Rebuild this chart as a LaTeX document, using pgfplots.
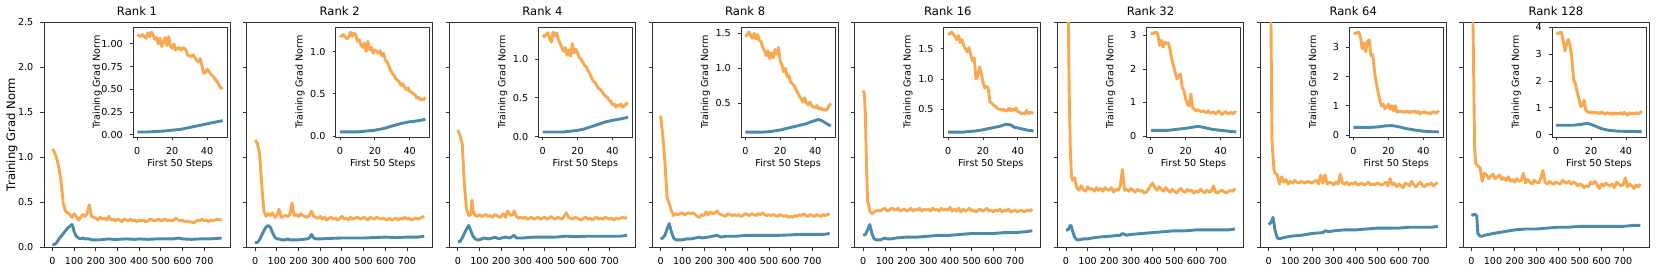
\documentclass[border=0pt]{standalone}
\usepackage{fontspec}
\setmainfont{DejaVu Sans}
\usepackage{pgfplots}
\pgfplotsset{compat=1.18}
\definecolor{ocol}{HTML}{F8A94F}
\definecolor{bcol}{HTML}{4A8AAA}
\newcommand\tickfont{\fontsize{4.8}{5.3}\selectfont}
\newcommand\labfont{\fontsize{4.8}{5.3}\selectfont}
\begin{document}
\begin{tikzpicture}
\pgfplotsset{
 base/.style={anchor=south west, scale only axis,
  tick align=outside, xtick pos=bottom, ytick pos=left,
  major tick length=1.8pt,
  axis line style={black!80, line width=0.4pt},
  tick style={black!80, line width=0.4pt},
  ticklabel style={font=\tickfont},
  /pgf/number format/assume math mode=true,
  every axis plot/.append style={line width=1.45pt, line join=round},
 },
 main/.style={base, width=93pt, height=112.5pt,
  xmin=-39, xmax=819, ymin=0, ymax=2.5,
  xtick={0,100,...,700}, ytick={0,0.5,...,2.5},
  yticklabel style={/pgf/number format/fixed, /pgf/number format/zerofill, /pgf/number format/precision=1},
  every axis title/.style={font=\fontsize{5.8}{6}\selectfont, at={(0.5,1)}, anchor=base, yshift=3.3pt, inner sep=0pt},
 },
 inset/.style={base, width=47pt, height=55pt, xmin=-2.45, xmax=51.45,
  xtick={0,20,40}, axis background/.style={fill=white},
  xlabel={First 50 Steps}, ylabel={Training Grad Norm},
  every axis x label/.style={at={(axis description cs:0.5,0)}, anchor=north, yshift=-10.8pt, inner sep=0pt, font=\labfont},
  every axis y label/.style={at={(axis description cs:-0.38,0.5)}, anchor=center, rotate=90, inner sep=0pt, font=\labfont},
  major tick length=1.6pt,
 },
 noyl/.style={yticklabels={}},
 p1/.style={yticklabel style={/pgf/number format/fixed, /pgf/number format/zerofill, /pgf/number format/precision=1}},
 p2/.style={yticklabel style={/pgf/number format/fixed, /pgf/number format/zerofill, /pgf/number format/precision=2}},
 p0/.style={yticklabel style={/pgf/number format/fixed, /pgf/number format/precision=0}},
}
% ================= Rank 1
\begin{axis}[main, at={(22pt,11.5pt)}, title={Rank 1}, ylabel={Training Grad Norm},
 every axis y label/.style={at={(axis description cs:-0.172,0.5)}, anchor=center, rotate=90, inner sep=0pt, font=\fontsize{5.8}{6.2}\selectfont}]
\addplot[ocol] coordinates {(0,1.09)(10,1.05)(20,0.98)(30,0.88)(40,0.72)(50,0.48)(60,0.40)(70,0.38)(80,0.36)(90,0.33)(100,0.37)(110,0.34)(120,0.30)(130,0.33)(140,0.36)(150,0.34)(160,0.37)(170,0.47)(180,0.34)(190,0.33)(200,0.32)(210,0.30)(220,0.33)(230,0.31)(240,0.32)(250,0.30)(260,0.34)(270,0.30)(280,0.31)(290,0.29)(300,0.31)(310,0.30)(320,0.28)(330,0.31)(340,0.30)(350,0.29)(360,0.31)(370,0.29)(380,0.30)(390,0.28)(400,0.30)(410,0.29)(420,0.30)(430,0.28)(440,0.29)(450,0.31)(460,0.30)(470,0.29)(480,0.30)(490,0.31)(500,0.29)(510,0.30)(520,0.31)(530,0.29)(540,0.30)(550,0.29)(560,0.30)(570,0.32)(580,0.30)(590,0.29)(600,0.30)(610,0.28)(620,0.29)(630,0.28)(640,0.28)(650,0.27)(660,0.28)(670,0.30)(680,0.29)(690,0.31)(700,0.29)(710,0.30)(720,0.28)(730,0.30)(740,0.29)(750,0.30)(760,0.31)(770,0.30)(780,0.31)};
\addplot[bcol] coordinates {(0,0.03)(10,0.03)(20,0.05)(30,0.09)(40,0.12)(50,0.15)(60,0.18)(70,0.21)(80,0.23)(90,0.25)(95,0.22)(100,0.17)(110,0.12)(120,0.10)(130,0.09)(140,0.10)(150,0.09)(170,0.09)(180,0.08)(200,0.08)(220,0.08)(240,0.085)(260,0.09)(280,0.085)(300,0.085)(340,0.09)(380,0.085)(400,0.09)(440,0.085)(480,0.09)(520,0.09)(560,0.09)(580,0.10)(600,0.09)(640,0.085)(680,0.09)(720,0.09)(760,0.095)(780,0.10)};
\end{axis}
\begin{axis}[inset, p2, at={(66.5pt,66.5pt)}, ymin=-0.025, ymax=1.185, ytick={0,0.25,0.5,0.75,1}]
\addplot[ocol] coordinates {(0,1.10)(1,1.09)(2,1.08)(3,1.10)(4,1.08)(5,1.06)(6,1.12)(7,1.08)(8,1.13)(9,1.10)(10,1.05)(11,1.07)(12,1.00)(13,1.06)(14,0.97)(15,1.02)(16,1.07)(17,0.98)(18,1.08)(19,0.97)(20,0.95)(21,1.00)(22,0.93)(23,0.95)(24,0.96)(25,0.93)(26,0.96)(27,0.95)(28,0.93)(29,0.87)(30,0.87)(31,0.86)(32,0.88)(33,0.85)(34,0.82)(35,0.80)(36,0.84)(37,0.77)(38,0.68)(39,0.68)(40,0.72)(41,0.70)(42,0.67)(43,0.65)(44,0.63)(45,0.60)(46,0.58)(47,0.54)(48,0.51)(49,0.52)};
\addplot[bcol] coordinates {(0,0.03)(5,0.03)(10,0.035)(15,0.04)(20,0.05)(25,0.06)(30,0.08)(35,0.10)(40,0.12)(45,0.14)(49,0.155)};
\end{axis}
% ================= Rank 2
\begin{axis}[main, noyl, at={(123.35pt,11.5pt)}, title={Rank 2}]
\addplot[ocol] coordinates {(0,1.19)(10,1.15)(20,1.05)(30,0.70)(40,0.40)(50,0.34)(60,0.37)(70,0.35)(80,0.38)(90,0.33)(100,0.35)(110,0.42)(120,0.33)(130,0.34)(140,0.35)(150,0.34)(160,0.36)(170,0.49)(180,0.35)(190,0.36)(200,0.34)(210,0.37)(220,0.35)(230,0.34)(240,0.33)(250,0.35)(260,0.40)(270,0.34)(280,0.33)(290,0.32)(300,0.34)(310,0.31)(320,0.33)(330,0.30)(340,0.32)(350,0.33)(360,0.31)(370,0.32)(380,0.30)(390,0.32)(400,0.34)(410,0.31)(420,0.32)(430,0.30)(440,0.33)(450,0.31)(460,0.32)(470,0.33)(480,0.32)(490,0.31)(500,0.33)(510,0.32)(520,0.30)(530,0.33)(540,0.32)(550,0.31)(560,0.33)(570,0.32)(580,0.31)(590,0.32)(600,0.31)(610,0.30)(620,0.32)(630,0.30)(640,0.31)(650,0.32)(660,0.30)(670,0.32)(680,0.31)(690,0.33)(700,0.31)(710,0.32)(720,0.30)(730,0.31)(740,0.32)(750,0.31)(760,0.32)(770,0.33)(780,0.34)};
\addplot[bcol] coordinates {(0,0.05)(10,0.05)(20,0.08)(30,0.13)(40,0.18)(50,0.22)(60,0.24)(70,0.22)(80,0.16)(90,0.11)(100,0.09)(110,0.09)(120,0.08)(140,0.08)(150,0.09)(160,0.08)(200,0.08)(240,0.09)(250,0.10)(260,0.14)(270,0.10)(280,0.09)(300,0.09)(340,0.095)(400,0.10)(450,0.10)(500,0.10)(550,0.105)(600,0.11)(650,0.105)(700,0.11)(750,0.11)(780,0.12)};
\end{axis}
\begin{axis}[inset, p1, at={(167.85pt,66.5pt)}, ymin=-0.01, ymax=1.29, ytick={0,0.5,1}]
\addplot[ocol] coordinates {(0,1.19)(1,1.18)(2,1.20)(3,1.17)(4,1.15)(5,1.17)(6,1.23)(7,1.18)(8,1.22)(9,1.20)(10,1.12)(11,1.14)(12,1.08)(13,1.05)(14,1.10)(15,1.00)(16,1.12)(17,1.02)(18,1.05)(19,0.98)(20,1.02)(21,1.00)(22,0.98)(23,1.01)(24,0.95)(25,0.98)(26,0.90)(27,0.88)(28,0.83)(29,0.78)(30,0.74)(31,0.72)(32,0.68)(33,0.66)(34,0.64)(35,0.60)(36,0.62)(37,0.58)(38,0.55)(39,0.57)(40,0.53)(41,0.52)(42,0.50)(43,0.49)(44,0.45)(45,0.46)(46,0.43)(47,0.44)(48,0.43)(49,0.46)};
\addplot[bcol] coordinates {(0,0.05)(10,0.05)(15,0.06)(20,0.07)(25,0.09)(30,0.12)(35,0.15)(40,0.17)(44,0.18)(47,0.19)(49,0.20)};
\end{axis}
% ================= Rank 4
\begin{axis}[main, noyl, at={(224.7pt,11.5pt)}, title={Rank 4}]
\addplot[ocol] coordinates {(0,1.30)(10,1.24)(20,1.15)(30,0.70)(40,0.42)(50,0.35)(60,0.36)(65,0.52)(70,0.40)(80,0.35)(90,0.34)(100,0.36)(110,0.34)(120,0.35)(130,0.36)(140,0.34)(150,0.35)(160,0.33)(170,0.36)(180,0.35)(190,0.33)(200,0.34)(210,0.37)(220,0.33)(230,0.40)(240,0.36)(250,0.35)(260,0.40)(270,0.34)(280,0.32)(290,0.33)(300,0.32)(310,0.33)(320,0.31)(330,0.32)(340,0.33)(350,0.31)(360,0.32)(370,0.33)(380,0.31)(390,0.32)(400,0.33)(410,0.31)(420,0.32)(430,0.34)(440,0.32)(450,0.31)(460,0.33)(470,0.32)(480,0.31)(490,0.34)(500,0.38)(510,0.33)(520,0.32)(530,0.31)(540,0.33)(550,0.32)(560,0.31)(570,0.30)(580,0.32)(590,0.33)(600,0.31)(610,0.32)(620,0.30)(630,0.32)(640,0.33)(650,0.31)(660,0.32)(670,0.31)(680,0.33)(690,0.32)(700,0.31)(710,0.32)(720,0.30)(730,0.32)(740,0.31)(750,0.32)(760,0.33)(770,0.32)(780,0.33)};
\addplot[bcol] coordinates {(0,0.06)(10,0.06)(20,0.10)(30,0.15)(40,0.20)(50,0.24)(60,0.18)(70,0.12)(80,0.09)(90,0.08)(100,0.08)(120,0.10)(140,0.09)(160,0.10)(170,0.11)(190,0.09)(200,0.10)(220,0.11)(240,0.10)(260,0.13)(270,0.10)(300,0.10)(350,0.11)(400,0.11)(450,0.11)(500,0.12)(550,0.115)(600,0.12)(650,0.12)(700,0.12)(750,0.12)(780,0.13)};
\end{axis}
\begin{axis}[inset, p1, at={(269.2pt,66.5pt)}, ymin=-0.005, ymax=1.415, ytick={0,0.5,1}]
\addplot[ocol] coordinates {(0,1.31)(1,1.29)(2,1.32)(3,1.34)(4,1.27)(5,1.22)(6,1.35)(7,1.30)(8,1.34)(9,1.26)(10,1.20)(11,1.15)(12,1.10)(13,1.15)(14,1.05)(15,1.12)(16,1.04)(17,1.20)(18,1.08)(19,1.13)(20,1.08)(21,1.02)(22,1.00)(23,0.96)(24,0.92)(25,0.90)(26,0.85)(27,0.82)(28,0.76)(29,0.72)(30,0.70)(31,0.66)(32,0.62)(33,0.61)(34,0.58)(35,0.55)(36,0.52)(37,0.51)(38,0.47)(39,0.46)(40,0.41)(41,0.42)(42,0.38)(43,0.41)(44,0.40)(45,0.42)(46,0.38)(47,0.40)(48,0.43)(49,0.42)};
\addplot[bcol] coordinates {(0,0.06)(12,0.06)(16,0.07)(20,0.08)(24,0.10)(28,0.13)(32,0.16)(36,0.19)(40,0.21)(45,0.23)(49,0.25)};
\end{axis}
% ================= Rank 8
\begin{axis}[main, noyl, at={(326.05pt,11.5pt)}, title={Rank 8}]
\addplot[ocol] coordinates {(0,1.46)(10,1.25)(20,0.95)(30,0.55)(40,0.48)(50,0.40)(60,0.35)(70,0.37)(80,0.36)(90,0.37)(100,0.38)(110,0.36)(120,0.37)(130,0.38)(140,0.37)(150,0.38)(160,0.36)(170,0.34)(180,0.33)(190,0.36)(200,0.35)(210,0.39)(220,0.36)(230,0.39)(240,0.37)(250,0.38)(260,0.40)(270,0.37)(280,0.36)(290,0.35)(300,0.34)(310,0.37)(320,0.36)(330,0.35)(340,0.36)(350,0.35)(360,0.36)(370,0.34)(380,0.35)(390,0.37)(400,0.36)(410,0.35)(420,0.37)(430,0.36)(440,0.35)(450,0.37)(460,0.36)(470,0.38)(480,0.36)(490,0.35)(500,0.36)(510,0.35)(520,0.36)(530,0.35)(540,0.34)(550,0.36)(560,0.35)(570,0.34)(580,0.35)(590,0.33)(600,0.34)(610,0.33)(620,0.35)(630,0.34)(640,0.36)(650,0.35)(660,0.37)(670,0.35)(680,0.34)(690,0.36)(700,0.35)(710,0.34)(720,0.36)(730,0.35)(740,0.34)(750,0.36)(760,0.35)(770,0.36)(780,0.37)};
\addplot[bcol] coordinates {(0,0.09)(10,0.10)(20,0.13)(30,0.20)(40,0.26)(50,0.17)(60,0.10)(70,0.08)(80,0.08)(100,0.08)(120,0.09)(140,0.09)(160,0.10)(180,0.11)(190,0.10)(220,0.11)(260,0.13)(280,0.11)(300,0.12)(350,0.12)(400,0.13)(450,0.13)(500,0.13)(550,0.13)(600,0.135)(650,0.14)(700,0.14)(750,0.14)(780,0.15)};
\end{axis}
\begin{axis}[inset, p1, at={(370.55pt,66.5pt)}, ymin=0.02, ymax=1.59, ytick={0.5,1,1.5}]
\addplot[ocol] coordinates {(0,1.45)(1,1.48)(2,1.52)(3,1.47)(4,1.43)(5,1.50)(6,1.42)(7,1.48)(8,1.40)(9,1.38)(10,1.30)(11,1.25)(12,1.18)(13,1.25)(14,1.14)(15,1.22)(16,1.15)(17,1.27)(18,1.20)(19,1.30)(20,1.10)(21,1.05)(22,0.95)(23,1.00)(24,0.88)(25,0.90)(26,0.80)(27,0.78)(28,0.75)(29,0.70)(30,0.65)(31,0.60)(32,0.57)(33,0.52)(34,0.58)(35,0.50)(36,0.48)(37,0.52)(38,0.47)(39,0.45)(40,0.44)(41,0.47)(42,0.42)(43,0.44)(44,0.41)(45,0.42)(46,0.40)(47,0.42)(48,0.47)(49,0.50)};
\addplot[bcol] coordinates {(0,0.09)(10,0.09)(15,0.10)(20,0.12)(25,0.15)(30,0.18)(35,0.21)(38,0.24)(42,0.27)(44,0.25)(46,0.22)(48,0.19)(49,0.18)};
\end{axis}
% ================= Rank 16
\begin{axis}[main, noyl, at={(427.4pt,11.5pt)}, title={Rank 16}]
\addplot[ocol] coordinates {(0,1.74)(5,1.70)(10,1.45)(15,0.90)(20,0.50)(25,0.47)(30,0.40)(40,0.37)(50,0.39)(60,0.40)(70,0.41)(80,0.40)(90,0.42)(100,0.43)(110,0.40)(120,0.41)(130,0.43)(140,0.42)(150,0.41)(160,0.43)(170,0.40)(180,0.41)(190,0.42)(200,0.40)(210,0.41)(220,0.43)(230,0.40)(240,0.42)(250,0.41)(260,0.43)(270,0.40)(280,0.42)(290,0.41)(300,0.42)(310,0.40)(320,0.43)(330,0.41)(340,0.42)(350,0.40)(360,0.43)(370,0.41)(380,0.42)(390,0.41)(400,0.44)(410,0.40)(420,0.42)(430,0.40)(440,0.43)(450,0.39)(460,0.42)(470,0.40)(480,0.41)(490,0.43)(500,0.40)(510,0.41)(520,0.39)(530,0.41)(540,0.42)(550,0.40)(560,0.41)(570,0.43)(580,0.40)(590,0.41)(600,0.39)(610,0.41)(620,0.40)(630,0.42)(640,0.39)(650,0.41)(660,0.40)(670,0.42)(680,0.39)(690,0.40)(700,0.41)(710,0.39)(720,0.40)(730,0.41)(740,0.39)(750,0.40)(760,0.41)(770,0.40)(780,0.42)};
\addplot[bcol] coordinates {(0,0.13)(10,0.14)(20,0.19)(30,0.25)(40,0.15)(50,0.09)(60,0.08)(70,0.08)(80,0.08)(100,0.10)(110,0.09)(130,0.09)(150,0.10)(200,0.11)(250,0.11)(300,0.12)(350,0.13)(400,0.13)(450,0.14)(500,0.15)(550,0.15)(600,0.15)(650,0.16)(700,0.16)(750,0.17)(780,0.18)};
\end{axis}
\begin{axis}[inset, p1, at={(471.9pt,66.5pt)}, ymin=0.04, ymax=1.86, ytick={0.5,1,1.5}]
\addplot[ocol] coordinates {(0,1.73)(1,1.75)(2,1.78)(3,1.74)(4,1.70)(5,1.65)(6,1.72)(7,1.60)(8,1.65)(9,1.55)(10,1.50)(11,1.45)(12,1.52)(13,1.40)(14,1.30)(15,1.35)(16,1.00)(17,1.05)(18,1.20)(19,1.10)(20,0.95)(21,0.85)(22,0.88)(23,0.85)(24,0.62)(25,0.60)(26,0.57)(27,0.55)(28,0.52)(29,0.50)(30,0.50)(31,0.48)(32,0.50)(33,0.47)(34,0.48)(35,0.52)(36,0.47)(37,0.50)(38,0.48)(39,0.52)(40,0.46)(41,0.45)(42,0.43)(43,0.44)(44,0.42)(45,0.48)(46,0.43)(47,0.45)(48,0.44)(49,0.44)};
\addplot[bcol] coordinates {(0,0.12)(8,0.12)(12,0.13)(16,0.14)(20,0.16)(25,0.19)(30,0.22)(33,0.25)(36,0.24)(38,0.20)(40,0.19)(43,0.17)(46,0.15)(49,0.14)};
\end{axis}
% ================= Rank 32
\begin{axis}[main, noyl, at={(528.75pt,11.5pt)}, title={Rank 32}]
\addplot[ocol] coordinates {(0,3.07)(10,2.78)(15,1.70)(20,1.10)(25,0.80)(30,0.74)(40,0.77)(50,0.66)(60,0.63)(70,0.68)(80,0.64)(90,0.62)(100,0.67)(110,0.64)(120,0.65)(130,0.62)(140,0.66)(150,0.63)(160,0.65)(170,0.62)(180,0.66)(190,0.64)(200,0.63)(210,0.66)(220,0.61)(230,0.64)(240,0.63)(250,0.67)(260,0.86)(270,0.63)(280,0.64)(290,0.62)(300,0.65)(310,0.63)(320,0.61)(330,0.64)(340,0.62)(350,0.63)(360,0.60)(370,0.61)(380,0.64)(390,0.68)(400,0.71)(410,0.66)(420,0.63)(430,0.67)(440,0.64)(450,0.62)(460,0.66)(470,0.63)(480,0.61)(490,0.64)(500,0.62)(510,0.60)(520,0.63)(530,0.65)(540,0.62)(550,0.61)(560,0.64)(570,0.62)(580,0.63)(590,0.60)(600,0.62)(610,0.61)(620,0.64)(630,0.62)(640,0.60)(650,0.63)(660,0.61)(670,0.62)(680,0.68)(690,0.61)(700,0.60)(710,0.62)(720,0.63)(730,0.61)(740,0.60)(750,0.62)(760,0.63)(770,0.62)(780,0.65)};
\addplot[bcol] coordinates {(0,0.19)(10,0.19)(20,0.24)(25,0.23)(30,0.18)(40,0.11)(50,0.08)(60,0.08)(80,0.09)(100,0.09)(120,0.10)(150,0.11)(200,0.12)(250,0.13)(260,0.15)(280,0.13)(300,0.14)(350,0.15)(400,0.16)(450,0.17)(500,0.18)(550,0.18)(600,0.19)(650,0.19)(700,0.19)(750,0.19)(780,0.20)};
\end{axis}
\begin{axis}[inset, p0, at={(573.25pt,66.5pt)}, ymin=-0.03, ymax=3.25, ytick={0,1,2,3}]
\addplot[ocol] coordinates {(0,3.07)(1,3.05)(2,3.08)(3,3.10)(4,3.05)(5,2.70)(6,2.85)(7,2.65)(8,2.80)(9,2.75)(10,2.78)(11,2.60)(12,2.30)(13,2.10)(14,1.90)(15,1.70)(16,1.80)(17,1.85)(18,1.45)(19,1.35)(20,1.10)(21,0.95)(22,0.90)(23,1.25)(24,0.85)(25,0.80)(26,0.75)(27,0.78)(28,0.75)(29,0.72)(30,0.75)(31,0.72)(32,0.70)(33,0.75)(34,0.68)(35,0.70)(36,0.72)(37,0.66)(38,0.70)(39,0.75)(40,0.68)(41,0.64)(42,0.70)(43,0.73)(44,0.66)(45,0.68)(46,0.70)(47,0.66)(48,0.72)(49,0.70)};
\addplot[bcol] coordinates {(0,0.17)(10,0.17)(15,0.20)(20,0.23)(25,0.27)(27,0.29)(31,0.25)(35,0.20)(40,0.17)(45,0.14)(49,0.12)};
\end{axis}
% ================= Rank 64
\begin{axis}[main, noyl, at={(630.1pt,11.5pt)}, title={Rank 64}]
\addplot[ocol] coordinates {(0,3.48)(10,2.70)(15,1.20)(20,1.00)(25,0.85)(30,0.82)(40,0.80)(50,0.70)(60,0.78)(70,0.72)(80,0.75)(90,0.70)(100,0.73)(110,0.71)(120,0.74)(130,0.72)(140,0.71)(150,0.73)(160,0.72)(170,0.71)(180,0.73)(190,0.72)(200,0.71)(210,0.73)(220,0.74)(230,0.70)(240,0.80)(250,0.71)(260,0.80)(270,0.70)(280,0.72)(290,0.71)(300,0.69)(310,0.72)(320,0.70)(330,0.81)(340,0.71)(350,0.70)(360,0.72)(370,0.69)(380,0.71)(390,0.70)(400,0.72)(410,0.69)(420,0.70)(430,0.71)(440,0.69)(450,0.70)(460,0.72)(470,0.69)(480,0.70)(490,0.69)(500,0.71)(510,0.70)(520,0.69)(530,0.70)(540,0.72)(550,0.68)(560,0.76)(570,0.69)(580,0.71)(590,0.67)(600,0.70)(610,0.68)(620,0.66)(630,0.71)(640,0.70)(650,0.68)(660,0.73)(670,0.69)(680,0.67)(690,0.70)(700,0.72)(710,0.68)(720,0.67)(730,0.70)(740,0.69)(750,0.71)(760,0.68)(770,0.70)(780,0.72)};
\addplot[bcol] coordinates {(0,0.25)(10,0.27)(20,0.33)(30,0.18)(40,0.10)(50,0.09)(60,0.10)(80,0.11)(100,0.12)(150,0.13)(200,0.15)(250,0.16)(260,0.18)(280,0.17)(300,0.18)(350,0.19)(400,0.19)(450,0.20)(500,0.21)(550,0.21)(600,0.21)(650,0.22)(700,0.22)(750,0.22)(780,0.23)};
\end{axis}
\begin{axis}[inset, p0, at={(674.6pt,66.5pt)}, ymin=-0.07, ymax=3.69, ytick={0,1,2,3}]
\addplot[ocol] coordinates {(0,3.48)(1,3.47)(2,3.50)(3,3.52)(4,3.35)(5,2.95)(6,3.15)(7,2.85)(8,3.20)(9,3.25)(10,2.70)(11,2.75)(12,2.20)(13,1.80)(14,1.50)(15,1.20)(16,1.00)(17,1.05)(18,0.90)(19,0.95)(20,1.05)(21,0.88)(22,1.00)(23,0.82)(24,1.00)(25,0.78)(26,0.80)(27,0.82)(28,0.78)(29,0.80)(30,0.77)(31,0.82)(32,0.76)(33,0.80)(34,0.78)(35,0.82)(36,0.75)(37,0.80)(38,0.72)(39,0.78)(40,0.76)(41,0.80)(42,0.74)(43,0.76)(44,0.72)(45,0.77)(46,0.80)(47,0.74)(48,0.78)(49,0.83)};
\addplot[bcol] coordinates {(0,0.26)(10,0.26)(15,0.28)(18,0.31)(22,0.32)(26,0.28)(30,0.22)(35,0.17)(40,0.13)(45,0.11)(49,0.11)};
\end{axis}
% ================= Rank 128
\begin{axis}[main, noyl, at={(731.45pt,11.5pt)}, title={Rank 128}]
\addplot[ocol] coordinates {(0,3.78)(10,2.05)(15,1.10)(20,0.93)(30,0.90)(40,0.88)(50,0.73)(60,0.82)(70,0.80)(80,0.76)(90,0.79)(100,0.81)(110,0.76)(120,0.78)(130,0.80)(140,0.75)(150,0.77)(160,0.74)(170,0.78)(180,0.73)(190,0.75)(200,0.72)(210,0.76)(220,0.73)(230,0.74)(240,0.82)(250,0.71)(260,0.75)(270,0.72)(280,0.70)(290,0.74)(300,0.72)(310,0.71)(320,0.76)(330,0.85)(340,0.72)(350,0.70)(360,0.73)(370,0.71)(380,0.70)(390,0.72)(400,0.71)(410,0.70)(420,0.74)(430,0.72)(440,0.71)(450,0.73)(460,0.70)(470,0.72)(480,0.71)(490,0.68)(500,0.70)(510,0.69)(520,0.66)(530,0.68)(540,0.67)(550,0.72)(560,0.70)(570,0.73)(580,0.69)(590,0.65)(600,0.70)(610,0.68)(620,0.71)(630,0.69)(640,0.68)(650,0.70)(660,0.66)(670,0.72)(680,0.70)(690,0.68)(700,0.69)(710,0.77)(720,0.67)(730,0.70)(740,0.68)(750,0.65)(760,0.69)(770,0.67)(780,0.70)};
\addplot[bcol] coordinates {(0,0.35)(10,0.36)(20,0.36)(25,0.34)(30,0.15)(40,0.12)(50,0.12)(60,0.13)(80,0.14)(100,0.15)(150,0.17)(200,0.19)(250,0.20)(300,0.20)(350,0.21)(400,0.22)(450,0.22)(500,0.23)(550,0.23)(600,0.23)(650,0.23)(700,0.23)(750,0.24)(780,0.24)};
\end{axis}
\begin{axis}[inset, p0, at={(775.95pt,66.5pt)}, ymin=-0.09, ymax=4.01, ytick={0,1,2,3,4}]
\addplot[ocol] coordinates {(0,3.78)(1,3.77)(2,3.80)(3,3.82)(4,3.50)(5,3.12)(6,3.40)(7,3.55)(8,3.30)(9,2.80)(10,2.05)(11,1.90)(12,1.60)(13,1.35)(14,1.05)(15,1.10)(16,1.28)(17,0.90)(18,0.85)(19,0.82)(20,0.85)(21,0.80)(22,0.84)(23,0.80)(24,0.82)(25,0.78)(26,0.85)(27,0.80)(28,0.76)(29,0.82)(30,0.78)(31,0.80)(32,0.75)(33,0.82)(34,0.76)(35,0.80)(36,0.78)(37,0.82)(38,0.75)(39,0.84)(40,0.78)(41,0.72)(42,0.82)(43,0.78)(44,0.80)(45,0.76)(46,0.82)(47,0.78)(48,0.80)(49,0.88)};
\addplot[bcol] coordinates {(0,0.35)(10,0.35)(13,0.37)(16,0.40)(18,0.42)(20,0.38)(23,0.30)(26,0.22)(30,0.16)(35,0.13)(40,0.12)(49,0.11)};
\end{axis}
\pgfresetboundingbox
\path[use as bounding box] (0,0) rectangle (830pt,135pt);
\end{tikzpicture}
\end{document}
